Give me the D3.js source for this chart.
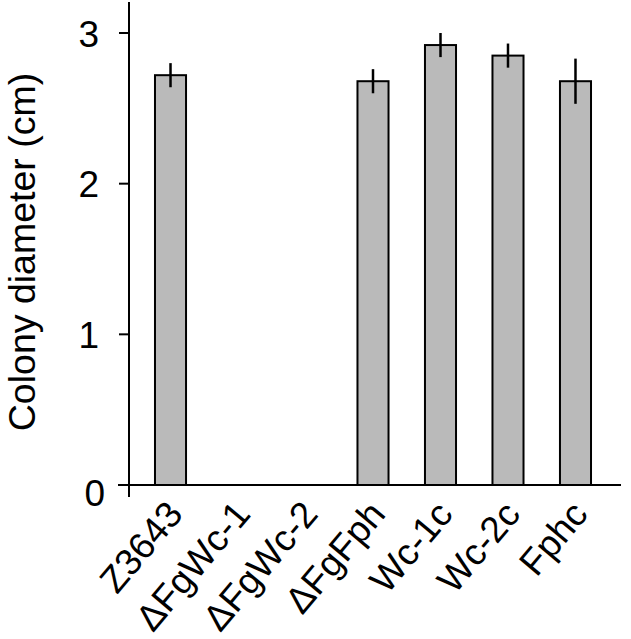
<!DOCTYPE html>
<html><head><meta charset="utf-8">
<script src="https://cdn.jsdelivr.net/npm/d3@7"></script>
<style>body{margin:0;background:#fff}svg{display:block}text{font-family:"Liberation Sans",Arial,sans-serif;fill:#000}</style>
</head><body>
<svg id="c" width="631" height="639"></svg>
<script>
const categories = ["Z3643", "ΔFgWc-1", "ΔFgWc-2", "ΔFgFph", "Wc-1c", "Wc-2c", "Fphc"];
const values = [2.72, 0, 0, 2.68, 2.92, 2.85, 2.68];
const errors = [0.08, 0, 0, 0.08, 0.08, 0.08, 0.15];
const yTicks = [0, 1, 2, 3];

const svg = d3.select("#c");
const x = d3.scaleBand().domain(categories).range([129, 617]).paddingInner(0.54).paddingOuter(0.385);
const y = d3.scaleLinear().domain([0, 3]).range([485, 33]);

// axes lines
svg.append("line").attr("x1", 129).attr("x2", 129).attr("y1", 2).attr("y2", 497).attr("stroke", "#000").attr("stroke-width", 2);
svg.append("line").attr("x1", 118).attr("x2", 621).attr("y1", y(0)).attr("y2", y(0)).attr("stroke", "#000").attr("stroke-width", 2);

// y ticks
const yt = svg.append("g");
yTicks.filter(d => d > 0).forEach(t => {
  yt.append("line").attr("x1", 119).attr("x2", 129).attr("y1", y(t)).attr("y2", y(t)).attr("stroke", "#000").attr("stroke-width", 2);
});
yTicks.forEach(t => {
  const isZero = t === 0;
  yt.append("text").attr("x", isZero ? 105 : 99).attr("y", y(t) + (isZero ? 8 : 1))
    .attr("text-anchor", "end").attr("dominant-baseline", "central")
    .attr("font-size", 37).text(t);
});

// y title
svg.append("text").attr("transform", "translate(35,252) rotate(-90)")
  .attr("text-anchor", "middle").attr("font-size", 37.5).text("Colony diameter (cm)");

// bars
const data = categories.map((c, i) => ({c, v: values[i], e: errors[i]})).filter(d => d.v > 0);
svg.append("g").selectAll("rect").data(data).join("rect")
  .attr("x", d => x(d.c)).attr("width", x.bandwidth())
  .attr("y", d => y(d.v)).attr("height", d => y(0) - y(d.v))
  .attr("fill", "#bababa").attr("stroke", "#000").attr("stroke-width", 2);
svg.append("g").selectAll("line").data(data).join("line")
  .attr("x1", d => x(d.c) + x.bandwidth() / 2).attr("x2", d => x(d.c) + x.bandwidth() / 2)
  .attr("y1", d => y(d.v + d.e)).attr("y2", d => y(d.v - d.e))
  .attr("stroke", "#000").attr("stroke-width", 2.5);

// x labels
svg.append("g").selectAll("text").data(categories).join("text")
  .attr("transform", d => `translate(${x(d) + x.bandwidth() / 2 + 14},${y(0) + 30}) rotate(-50)`)
  .attr("text-anchor", "end").attr("font-size", 37).text(d => d);
</script>
</body></html>
